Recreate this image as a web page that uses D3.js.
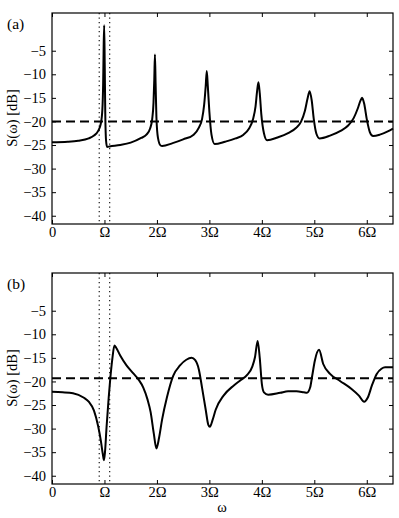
<!DOCTYPE html>
<html>
<head>
  <script src="https://d3js.org/d3.v7.min.js"></script>
  <style>
    body { margin: 0; background: #fff; }
    svg text { font-family: "Liberation Serif", "Times New Roman", serif !important; fill: #000; }
  </style>
</head>
<body>
<div id="chart"></div>
<script>
  // spectrum (a): omega in units of Omega, S in dB
  var omegaA = [0, 0.3, 0.5, 0.7, 0.8, 0.88, 0.93, 0.96, 0.975, 0.985, 0.995, 1.005, 1.015, 1.03, 1.05,
    1.1, 1.3, 1.5, 1.7, 1.8, 1.87, 1.91, 1.935, 1.95, 1.962, 1.975, 1.99, 2.02, 2.07,
    2.1, 2.3, 2.5, 2.7, 2.8, 2.86, 2.9, 2.93, 2.95, 2.97, 3.0, 3.04, 3.1,
    3.3, 3.5, 3.65, 3.75, 3.83, 3.88, 3.91, 3.935, 3.96, 3.99, 4.04, 4.1,
    4.3, 4.5, 4.65, 4.75, 4.82, 4.87, 4.91, 4.95, 4.99, 5.04, 5.1,
    5.3, 5.5, 5.65, 5.75, 5.83, 5.88, 5.91, 5.95, 6.0, 6.06, 6.12, 6.25, 6.4, 6.5];
  var specA = [-24.4, -24.3, -24.1, -23.6, -23.0, -22.0, -20.5, -17.5, -12, -4, 0.4, -8, -18, -24, -25.4,
    -25.3, -25.0, -24.5, -23.5, -22.8, -21.5, -19.5, -16, -11, -5.8, -12, -19, -23.5, -25.1,
    -25.2, -24.6, -23.8, -22.8, -21.3, -19.5, -16.5, -12.5, -9.3, -12.5, -18, -22.8, -24.8,
    -24.3, -23.6, -22.8, -21.6, -19.6, -16.8, -13.5, -11.7, -14, -18.5, -22.5, -24.0,
    -23.4, -22.5, -21.4, -20.0, -17.8, -15.2, -13.6, -15.5, -19.5, -22.6, -23.6,
    -23.0, -22.0, -20.8, -19.3, -17.2, -15.6, -15.0, -16.2, -19.5, -22.3, -23.1, -22.8, -22.1, -21.5];

  // spectrum (b)
  var omegaB = [0, 0.2, 0.4, 0.6, 0.7, 0.8, 0.88, 0.93, 0.97, 0.99, 1.01, 1.04, 1.08, 1.11, 1.15, 1.19, 1.22,
    1.3, 1.42, 1.55, 1.65, 1.74, 1.82, 1.88, 1.94, 1.99, 2.04, 2.1, 2.19, 2.31, 2.44, 2.56, 2.66,
    2.73, 2.8, 2.86, 2.93, 2.98, 3.01, 3.06, 3.12, 3.27, 3.46, 3.6, 3.72, 3.82, 3.87, 3.92,
    3.96, 4.0, 4.04, 4.12, 4.35, 4.5, 4.66, 4.8, 4.86, 4.92, 4.96, 5.01, 5.09, 5.17,
    5.3, 5.49, 5.71, 5.85, 5.95, 6.02, 6.1, 6.19, 6.28, 6.35, 6.5];
  var specB = [-22.2, -22.3, -22.5, -23.4, -24.3, -26.2, -29.5, -32.5, -35.5, -36.7, -35, -29.7, -23.5, -19.5, -15.2, -12.4, -12.8,
    -14.5, -16.6, -18.3, -19.6, -21.3, -23.8, -26.5, -31, -34.2, -32, -28, -23.4, -18.8, -16.6, -15.4, -15.0,
    -15.5, -17.5, -21.3, -26, -29.2, -29.6, -28.2, -26.0, -23.0, -20.9, -19.7, -18.6, -16.8, -14.8, -11.4,
    -15.0, -20.5, -22.3, -22.8, -22.4, -22.1, -22.1, -22.3, -22.4, -21.3, -18.8, -15.6, -13.3, -16.3,
    -18.4, -19.9, -21.6, -23.0, -24.3, -23.4, -20.8, -18.4, -17.3, -17.0, -17.0];

  var levelA = -20;
  var levelB = -19.3;
  var bandEdges = [0.9, 1.1];
  var xTicks = [0, 1, 2, 3, 4, 5, 6];
  var xTickLabels = ["0", "\u03A9", "2\u03A9", "3\u03A9", "4\u03A9", "5\u03A9", "6\u03A9"];
  var yTicks = [-5, -10, -15, -20, -25, -30, -35, -40];

  var width = 399, height = 518;
  var serif = "'Liberation Serif', 'Times New Roman', serif";
  var svg = d3.select("#chart").append("svg")
      .attr("width", width)
      .attr("height", height)
      .attr("font-family", serif);

  var x = d3.scaleLinear().domain([0, 6.5]).range([52, 393]);

  function panel(top, omega, spec, level, tag, showXlabel) {
    var y = d3.scaleLinear().domain([-41.75, 3]).range([top + 211, top]);
    var g = svg.append("g");

    // dotted band edges
    g.selectAll("line.band")
      .data(bandEdges)
      .enter().append("line")
      .attr("x1", function(d) { return x(d); })
      .attr("x2", function(d) { return x(d); })
      .attr("y1", top)
      .attr("y2", top + 211)
      .attr("stroke", "#000")
      .attr("stroke-width", 1.1)
      .attr("stroke-dasharray", "1.2,3.3");

    // dashed reference level
    g.append("line")
      .attr("x1", x(0)).attr("x2", x(6.5))
      .attr("y1", y(level)).attr("y2", y(level))
      .attr("stroke", "#000")
      .attr("stroke-width", 2)
      .attr("stroke-dasharray", "9,5");

    var pts = omega.map(function(w, i) { return [w, spec[i]]; });
    var line = d3.line()
      .x(function(d) { return x(d[0]); })
      .y(function(d) { return y(d[1]); })
      .curve(d3.curveMonotoneX);
    g.append("path")
      .datum(pts)
      .attr("d", line)
      .attr("fill", "none")
      .attr("stroke", "#000")
      .attr("stroke-width", 2)
      .attr("stroke-linejoin", "round");

    // axes with inward ticks
    var left = d3.axisLeft(y).tickValues(yTicks).tickSizeInner(-4).tickSizeOuter(0)
      .tickPadding(6).tickFormat(function(d) { return "\u2212" + Math.abs(d); });
    var right = d3.axisRight(y).tickValues(yTicks).tickSizeInner(-4).tickSizeOuter(0).tickFormat("");
    var bottom = d3.axisBottom(x).tickValues(xTicks).tickSizeInner(-4).tickSizeOuter(0)
      .tickPadding(3).tickFormat(function(d, i) { return xTickLabels[i]; });
    var topAx = d3.axisTop(x).tickValues(xTicks).tickSizeInner(-4).tickSizeOuter(0).tickFormat("");

    [[left, "translate(52,0)"], [right, "translate(393,0)"],
     [bottom, "translate(0," + (top + 211) + ")"], [topAx, "translate(0," + top + ")"]]
      .forEach(function(a) {
        var ax = g.append("g").attr("transform", a[1]).call(a[0])
          .attr("font-family", serif).attr("font-size", 14.5);
        ax.select(".domain").remove();
      });

    g.append("rect")
      .attr("x", 52).attr("y", top)
      .attr("width", 341).attr("height", 211)
      .attr("fill", "none")
      .attr("stroke", "#000")
      .attr("stroke-width", 1.2);

    g.append("text")
      .attr("x", 7).attr("y", top + 16)
      .attr("font-size", 15.5)
      .text(tag);

    g.append("text")
      .attr("transform", "translate(17," + (top + 105) + ") rotate(-90)")
      .attr("text-anchor", "middle")
      .attr("font-size", 14.5)
      .text("S(\u03C9) [dB]");

    if (showXlabel) {
      g.append("text")
        .attr("x", 222).attr("y", top + 239)
        .attr("text-anchor", "middle")
        .attr("font-size", 14.5)
        .text("\u03C9");
    }
  }

  panel(13, omegaA, specA, levelA, "(a)", false);
  panel(273, omegaB, specB, levelB, "(b)", true);
</script>
</body>
</html>
